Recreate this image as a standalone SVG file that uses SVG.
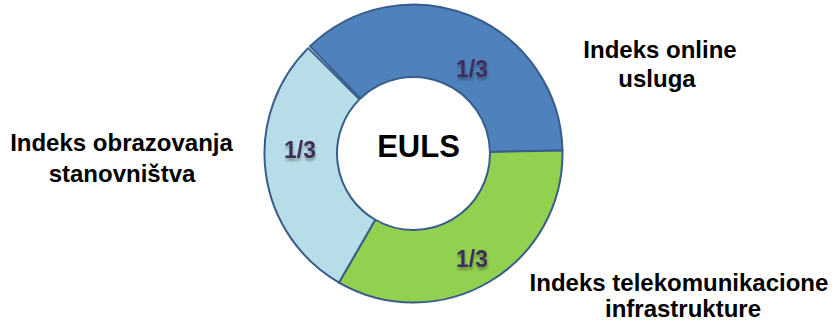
<svg xmlns="http://www.w3.org/2000/svg" width="836" height="322" viewBox="0 0 836 322">
<style>
.seg{stroke:#385D8A;stroke-width:2;stroke-linejoin:round}
.lbl{font-family:"Liberation Sans",Arial,sans-serif;font-weight:bold;font-size:24px;fill:#000;text-anchor:middle}
.frac{font-family:"Liberation Sans",Arial,sans-serif;font-weight:bold;font-size:23px;fill:#3F2D5A;text-anchor:middle;filter:url(#sh)}
</style>
<defs>
<filter id="sh" x="-30%" y="-30%" width="160%" height="180%">
<feDropShadow dx="0.5" dy="3" stdDeviation="1.2" flood-color="#000" flood-opacity="0.3"/>
</filter>
</defs>
<rect width="836" height="322" fill="#fff"/>
<g id="seg-online">
<path class="seg" fill="#4F81BD" d="M 310.0 46.32 A 149 149 0 0 1 562.47 150.38 L 489.98 151.90 A 76.5 76.5 0 0 0 360.36 98.47 Z"/>
<text class="frac" x="472" y="77">1/3</text>
</g>
<g id="seg-telekom">
<path class="seg" fill="#92D050" d="M 562.47 150.38 A 149 149 0 0 1 339.0 282.54 L 375.25 219.75 A 76.5 76.5 0 0 0 489.98 151.90 Z"/>
<text class="frac" x="472" y="267">1/3</text>
</g>
<g id="seg-obrazovanje">
<path class="seg" fill="#B7DEE8" d="M 339.0 282.54 A 149 149 0 0 1 308.14 48.14 L 359.41 99.41 A 76.5 76.5 0 0 0 375.25 219.75 Z"/>
<text class="frac" x="300" y="158">1/3</text>
</g>
<g id="center">
<text x="418.5" y="157" style="font-family:'Liberation Sans',Arial,sans-serif;font-weight:bold;font-size:31px;text-anchor:middle;fill:#000">EULS</text>
</g>
<g id="label-online">
<text class="lbl" x="660" y="58">Indeks online</text>
<text class="lbl" x="657" y="87">usluga</text>
</g>
<g id="label-obrazovanje">
<text class="lbl" x="121.5" y="151">Indeks obrazovanja</text>
<text class="lbl" x="122" y="182">stanovništva</text>
</g>
<g id="label-telekom">
<text class="lbl" x="679" y="291">Indeks telekomunikacione</text>
<text class="lbl" x="683" y="317">infrastrukture</text>
</g>
<g id="connectors"/>
</svg>
